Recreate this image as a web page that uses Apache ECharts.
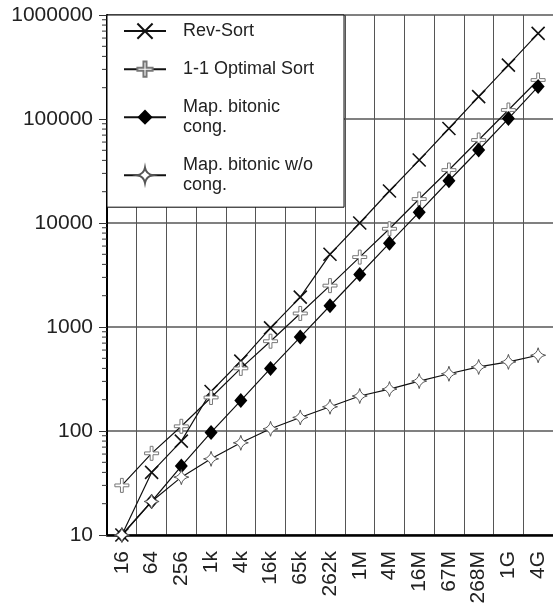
<!DOCTYPE html>
<html>
<head>
<meta charset="utf-8">
<script src="https://cdn.jsdelivr.net/npm/echarts@6/dist/echarts.min.js"></script>
<style>
  html, body { margin: 0; padding: 0; background: #fff; }
  #chart { width: 553px; height: 609px; }
</style>
</head>
<body>
<div id="chart"></div>
<script>
var sizes = ['16', '64', '256', '1k', '4k', '16k', '65k', '262k', '1M', '4M', '16M', '67M', '268M', '1G', '4G'];
var names = ['Rev-Sort', '1-1 Optimal Sort', 'Map. bitonic\ncong.', 'Map. bitonic w/o\ncong.'];
var revSort = [10, 40, 80, 240, 470, 980, 1940, 5000, 10000, 20300, 40300, 81000, 164000, 330000, 665000];
var optimalSort = [30, 61, 111, 210, 400, 730, 1350, 2500, 4700, 8800, 17000, 32300, 62800, 122000, 237000];
var bitonicCong = [10, 21, 46, 97, 196, 400, 800, 1600, 3200, 6400, 12700, 25500, 50300, 101000, 205000];
var bitonicNoCong = [10, 21, 36, 54, 77, 105, 135, 171, 217, 253, 302, 355, 413, 462, 535];

// log minor tick positions (2..9 in every decade) for the y axis
var minorTicks = [];
for (var d = 10; d < 1000000; d *= 10) {
    for (var k = 2; k <= 9; k++) minorTicks.push([0, d * k]);
}

var font = 'Liberation Sans, Arial, sans-serif';
var lineStyle = { color: '#111', width: 1.2 };

var option = {
    animation: false,
    backgroundColor: '#fff',
    grid: { left: 107, top: 15, width: 450, height: 520 },
    legend: {
        data: names,
        orient: 'vertical',
        left: 107,
        top: 15,
        backgroundColor: '#fff',
        borderColor: '#000',
        borderWidth: 1,
        padding: [6, 30, 12, 16],
        itemWidth: 42,
        itemHeight: 19,
        itemGap: 18,
        textStyle: { fontFamily: font, fontSize: 18, color: '#222', lineHeight: 20, padding: [0, 0, 0, 12] }
    },
    xAxis: {
        type: 'category',
        data: sizes,
        boundaryGap: true,
        axisLine: { lineStyle: { color: '#000', width: 2.5 } },
        axisTick: { length: 8, interval: 0, lineStyle: { color: '#333', width: 1 } },
        axisLabel: { rotate: 90, interval: 0, margin: 16, fontFamily: font, fontSize: 21, color: '#222' },
        splitLine: { show: true, interval: 0, lineStyle: { color: '#555', width: 1 } }
    },
    yAxis: {
        type: 'log',
        logBase: 10,
        min: 10,
        max: 1000000,
        axisLine: { show: true, lineStyle: { color: '#000', width: 2 } },
        axisTick: { show: true, length: 8, lineStyle: { color: '#333', width: 1 } },
        axisLabel: {
            margin: 14,
            fontFamily: font,
            fontSize: 21,
            color: '#222',
            formatter: function (v) { return String(Math.round(v)); }
        },
        splitLine: { show: true, lineStyle: { color: '#808080', width: 2 } }
    },
    series: [
        {
            name: 'ticks',
            type: 'custom',
            silent: true,
            clip: false,
            data: minorTicks,
            renderItem: function (params, api) {
                var y = api.coord([0, api.value(1)])[1];
                var x = params.coordSys.x;
                return {
                    type: 'line',
                    shape: { x1: x - 5, y1: y, x2: x, y2: y },
                    style: { stroke: '#333', lineWidth: 1 }
                };
            }
        },
        {
            name: names[0],
            type: 'line',
            data: revSort,
            symbol: 'path://M0,0L10,10M10,0L0,10',
            symbolSize: 13,
            lineStyle: lineStyle,
            itemStyle: { color: 'none', borderColor: '#111', borderWidth: 1.6 }
        },
        {
            name: names[1],
            type: 'line',
            data: optimalSort,
            symbol: 'path://M4,0H6V4H10V6H6V10H4V6H0V4H4Z',
            symbolSize: 14,
            lineStyle: lineStyle,
            itemStyle: { color: '#fff', borderColor: '#777', borderWidth: 1 }
        },
        {
            name: names[2],
            type: 'line',
            data: bitonicCong,
            symbol: 'diamond',
            symbolSize: [13, 15],
            lineStyle: lineStyle,
            itemStyle: { color: '#000', borderColor: '#000', borderWidth: 0 }
        },
        {
            name: names[3],
            type: 'line',
            data: bitonicNoCong,
            symbol: 'path://M5,0Q5.8,4.2 10,5Q5.8,5.8 5,10Q4.2,5.8 0,5Q4.2,4.2 5,0Z',
            symbolSize: 15,
            lineStyle: lineStyle,
            itemStyle: { color: '#fff', borderColor: '#555', borderWidth: 1 }
        }
    ]
};

var myChart = echarts.init(document.getElementById('chart'));
myChart.setOption(option);
</script>
</body>
</html>
